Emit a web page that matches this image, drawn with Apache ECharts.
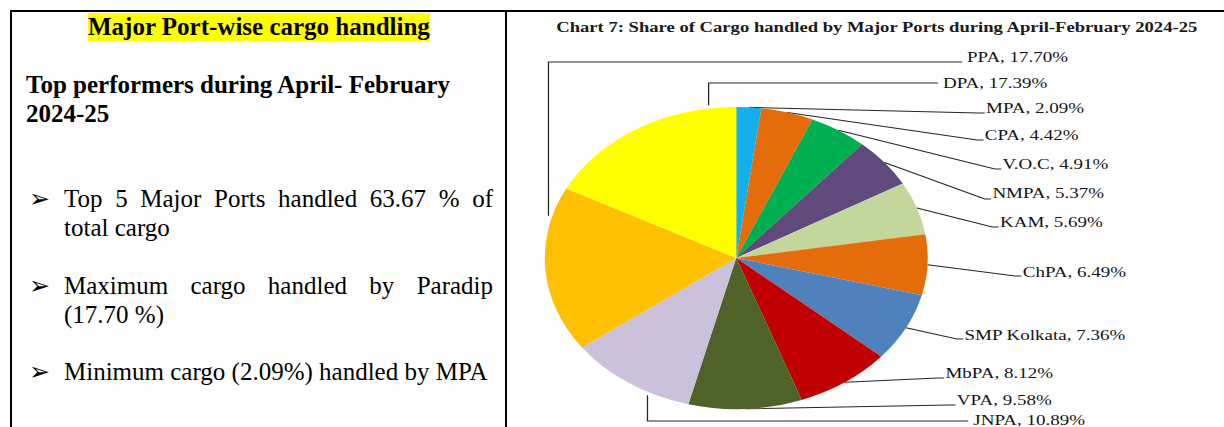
<!DOCTYPE html>
<html>
<head>
<meta charset="utf-8">
<script src="https://cdn.jsdelivr.net/npm/echarts@6/dist/echarts.min.js"></script>
<style>
  html, body { margin: 0; padding: 0; background: #fff; }
  body { width: 1224px; height: 427px; position: relative; overflow: hidden;
         font-family: 'Liberation Serif', 'Times New Roman', serif; color: #000; }
  .rule { position: absolute; background: #000; }
  .txt { position: absolute; white-space: nowrap; }
  .hl { background: #ffff00; font-weight: bold; font-size: 25px; line-height: 28px; }
  .sub { font-weight: bold; font-size: 25px; line-height: 29px; }
  .para { position: absolute; width: 429px; font-size: 25px; line-height: 29px; }
  .just { text-align: justify; text-align-last: justify; white-space: nowrap; }
  .arrow { position: absolute; font-family: 'DejaVu Sans', sans-serif; font-size: 25px; line-height: 29px; height: 29px; }
  #chart { position: absolute; left: 508px; top: 13px; width: 565px; height: 414px;
           transform: scaleX(1.268); transform-origin: 0 0; }
</style>
</head>
<body>
  <div class="rule" style="left:10px;top:10px;width:1214px;height:2px"></div>
  <div class="rule" style="left:10px;top:10px;width:2px;height:417px"></div>
  <div class="rule" style="left:505px;top:10px;width:2px;height:417px"></div>

  <div class="txt hl" style="left:88px;top:13px">Major Port-wise cargo handling</div>
  <div class="txt sub" style="left:26px;top:70px">Top performers during April- February<br>2024-25</div>

  <div class="arrow" style="left:29px;top:184px">➢</div>
  <div class="para" style="left:64px;top:184px"><div class="just">Top 5 Major Ports handled 63.67 % of</div>total cargo</div>

  <div class="arrow" style="left:29px;top:271px">➢</div>
  <div class="para" style="left:64px;top:271px"><div class="just">Maximum cargo handled by Paradip</div>(17.70 %)</div>

  <div class="arrow" style="left:29px;top:357px">➢</div>
  <div class="para" style="left:64px;top:357px">Minimum cargo (2.09%) handled by MPA</div>

  <div id="chart"></div>

<script>
// 数据：顺时针从12点开始
const ports = ['MPA', 'CPA', 'V.O.C', 'NMPA', 'KAM', 'ChPA', 'SMP Kolkata', 'MbPA', 'VPA', 'JNPA', 'PPA', 'DPA'];
const shares = [2.09, 4.42, 4.91, 5.37, 5.69, 6.49, 7.36, 8.12, 9.58, 10.89, 17.70, 17.39];
const colors = ['#13aeeb', '#e46c0a', '#00b050', '#604a7b', '#c3d69b', '#e46c0a',
                '#4f81bd', '#c00000', '#4f6228', '#ccc1da', '#ffc000', '#ffff00'];

// 标签位置（未缩放的像素），引线终点的垂直偏移，引线样式
const labelPos = [[377, 95], [376, 122], [390, 151], [382, 180], [388, 209], [406, 259],
                  [360, 322], [345, 360], [354, 387], [367, 407], [362, 44], [343, 70]];
const lineDy = [5, 5, 5, 6, 5, 4, 4, 5, 5, 1, 5, 0];
const elbow = [false, false, false, false, false, false, false, false, false, true, true, true];
const anchorAt = [null, null, null, null, null, null, null, null, null, 0.32, 0.82, 0.87];

let chart = echarts.init(document.getElementById('chart'), null, { renderer: 'svg' });

let option = {
  backgroundColor: 'transparent',
  animation: false,
  title: {
    text: 'Chart 7: Share of Cargo handled by Major Ports during April-February 2024-25',
    left: 38,
    top: 7,
    padding: 0,
    textStyle: {
      fontFamily: "'Liberation Serif', 'Times New Roman', serif",
      fontSize: 14.7,
      fontWeight: 'bold',
      color: '#1a1a1a'
    }
  },
  series: [
    {
      type: 'pie',
      center: [180, 245],
      radius: 151,
      startAngle: 90,
      clockwise: true,
      avoidLabelOverlap: false,
      itemStyle: { borderWidth: 0 },
      emphasis: { disabled: true },
      label: {
        show: true,
        position: 'outside',
        fontFamily: "'Liberation Serif', 'Times New Roman', serif",
        fontSize: 15,
        color: '#141414',
        formatter: function (p) {
          return p.name + ', ' + p.value.toFixed(2) + '%';
        }
      },
      labelLine: {
        show: true,
        length: 10,
        length2: 10,
        smooth: false,
        lineStyle: { color: '#262626', width: 1 }
      },
      labelLayout: function (params) {
        let i = params.dataIndex;
        let lx = labelPos[i][0];
        let ly = labelPos[i][1];
        let ey = ly + lineDy[i];
        let start = params.labelLinePoints ? params.labelLinePoints[0] : [lx, ey];
        if (anchorAt[i] != null) {
          // 用饼图自身的扇区布局计算引线起点
          let lay = chart.getModel().getSeriesByIndex(0).getData().getItemLayout(i);
          let a = lay.startAngle + anchorAt[i] * (lay.endAngle - lay.startAngle);
          start = [lay.cx + (lay.r + 3) * Math.cos(a), lay.cy + (lay.r + 3) * Math.sin(a)];
        }
        let pts;
        if (elbow[i]) {
          pts = [start, [start[0], ey], [lx - 4, ey]];
        } else {
          pts = [start, [lx - 6, ey], [lx - 1, ey]];
        }
        return {
          x: lx,
          y: ly,
          align: 'left',
          verticalAlign: 'middle',
          labelLinePoints: pts
        };
      },
      data: ports.map(function (name, i) {
        return { name: name, value: shares[i], itemStyle: { color: colors[i] } };
      })
    }
  ]
};

chart.setOption(option);
</script>
</body>
</html>
